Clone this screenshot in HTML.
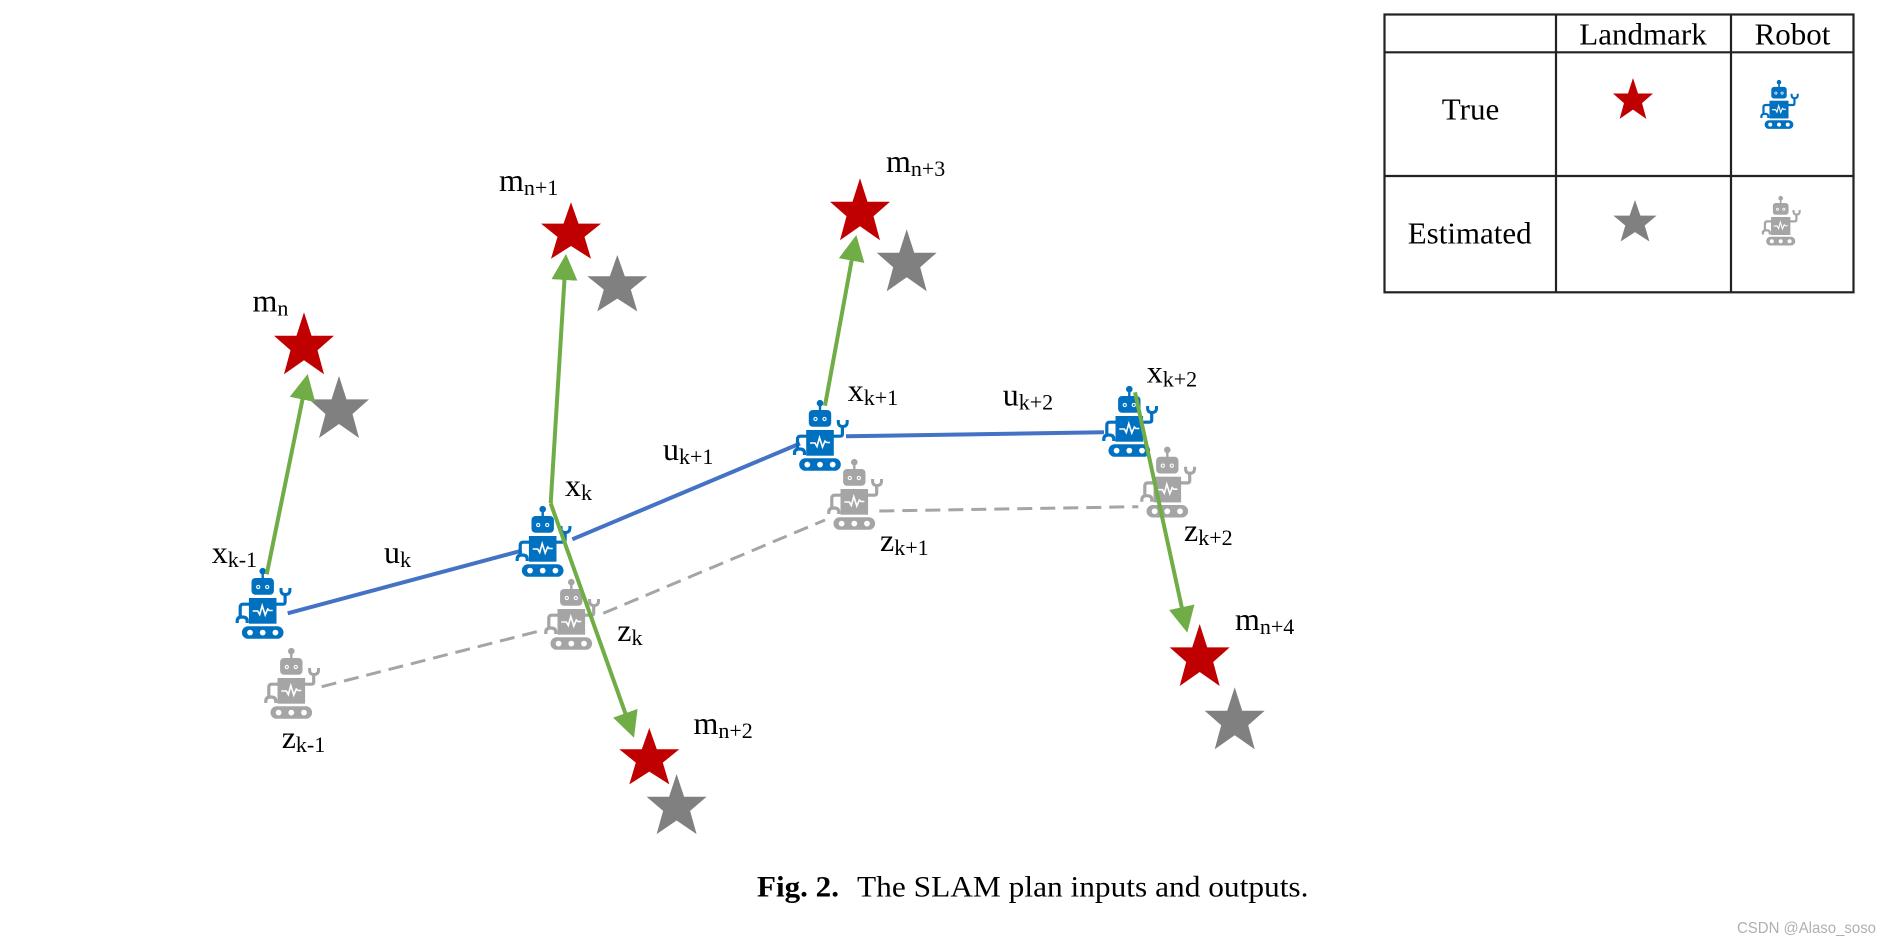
<!DOCTYPE html>
<html><head><meta charset="utf-8"><title>SLAM</title>
<style>
html,body{margin:0;padding:0;background:#fff;width:1891px;height:942px;overflow:hidden}
svg{display:block}
text{font-family:"Liberation Serif",serif;fill:#000}
.m{font-size:32px}
.s{font-size:22px}
.t{font-size:31px;text-anchor:middle}
</style></head><body>
<svg width="1891" height="942" viewBox="0 0 1891 942" xmlns="http://www.w3.org/2000/svg">
<defs>
<marker id="ah" markerUnits="userSpaceOnUse" markerWidth="26" markerHeight="26" viewBox="0 0 26 26" refX="11" refY="13" orient="auto"><path d="M0,0 L26,13 L0,26z" fill="#70AD47"/></marker>
<polygon id="star" points="0,0 7.5,23.4 30,23.4 13.5,38 20,62 0,48 -20,62 -13.5,38 -30,23.4 -7.5,23.4"/>
<g id="robot">
<rect x="-1.2" y="3" width="2.4" height="9" fill="currentColor"/>
<circle cx="0" cy="3.2" r="3.3" fill="currentColor"/>
<rect x="-11.2" y="10" width="22.4" height="16.8" rx="4" fill="currentColor"/>
<circle cx="-4.5" cy="19" r="1.6" fill="none" stroke="#fff" stroke-width="1.1"/>
<circle cx="4.5" cy="19" r="1.6" fill="none" stroke="#fff" stroke-width="1.1"/>
<rect x="-13.8" y="30" width="27.6" height="25.7" fill="currentColor"/>
<rect x="-20.8" y="58.3" width="41.6" height="12.5" rx="6.2" fill="currentColor"/>
<circle cx="-12.7" cy="64.6" r="2.9" fill="#fff"/><circle cx="0" cy="64.6" r="2.9" fill="#fff"/><circle cx="12.7" cy="64.6" r="2.9" fill="#fff"/>
<polyline points="-10,43 -5,43 -3,46.5 -0.5,37.5 2.5,47 5,41 6.5,42.5 10,42.5" fill="none" stroke="#fff" stroke-width="1.6"/>
<path d="M13 36.2 H20 Q22.4 36.2 22.4 34 V25" fill="none" stroke="currentColor" stroke-width="3.2"/>
<path d="M18.3 20 V22 Q18.3 26.5 22.7 26.5 Q27.2 26.5 27.2 22 V20" fill="none" stroke="currentColor" stroke-width="3"/>
<path d="M-13 36.2 H-19.5 Q-22.5 36.2 -22.5 39.5 V48" fill="none" stroke="currentColor" stroke-width="3.2"/>
<path d="M-25.5 55 V53 Q-25.5 49 -20.5 49 Q-15.5 49 -15.5 53 V55" fill="none" stroke="currentColor" stroke-width="3.2"/>
</g>
</defs>
<rect width="1891" height="942" fill="#fff"/>

<!-- blue and gray paths -->
<g fill="none" stroke="#4472C4" stroke-width="4">
<line x1="287.7" y1="613.3" x2="521.7" y2="550.7"/>
<line x1="572.3" y1="539.3" x2="800" y2="443.5"/>
<line x1="846" y1="436.3" x2="1104" y2="432.3"/>
</g>
<g fill="none" stroke="#A5A5A5" stroke-width="3" stroke-dasharray="15 8">
<line x1="321.7" y1="686.7" x2="543.3" y2="630"/>
<line x1="603.3" y1="613.3" x2="825" y2="520"/>
<line x1="879.3" y1="511" x2="1138.3" y2="506.7"/>
</g>

<!-- stars -->
<g fill="#808080">
<use href="#star" transform="translate(339,376)"/>
<use href="#star" transform="translate(617.3,255) scale(1,.91)"/>
<use href="#star" transform="translate(906.7,229.3)"/>
<use href="#star" transform="translate(676.6,774) scale(1,.97)"/>
<use href="#star" transform="translate(1234.7,687.3)"/>
<use href="#star" transform="translate(1635,200) scale(.72,.67)"/>
</g>
<g fill="#C00000">
<use href="#star" transform="translate(304,312.3)"/>
<use href="#star" transform="translate(571,202.3) scale(1,.91)"/>
<use href="#star" transform="translate(860,178.3)"/>
<use href="#star" transform="translate(649.3,728) scale(1,.91)"/>
<use href="#star" transform="translate(1199.7,624)"/>
<use href="#star" transform="translate(1633,78) scale(.667,.66)"/>
</g>

<!-- robots -->
<g color="#A5A5A5">
<use href="#robot" transform="translate(291.3,648)"/>
<use href="#robot" transform="translate(571.3,579)"/>
<use href="#robot" transform="translate(854.3,459)"/>
<use href="#robot" transform="translate(1167.3,446.7)"/>
<use href="#robot" transform="translate(1780.7,196) scale(.7)"/>
</g>
<g color="#0070C0">
<use href="#robot" transform="translate(262.7,568)"/>
<use href="#robot" transform="translate(542.7,506)"/>
<use href="#robot" transform="translate(820,400)"/>
<use href="#robot" transform="translate(1129.3,386)"/>
<use href="#robot" transform="translate(1779,80) scale(.69)"/>
</g>

<!-- green measurement arrows -->
<g fill="none" stroke="#70AD47" stroke-width="4">
<line x1="266.7" y1="574.3" x2="304.7" y2="388.7" marker-end="url(#ah)"/>
<line x1="550.7" y1="503.3" x2="565.1" y2="269" marker-end="url(#ah)"/>
<line x1="550.7" y1="503.3" x2="629" y2="723.6" marker-end="url(#ah)"/>
<line x1="825" y1="405.7" x2="853.6" y2="249.8" marker-end="url(#ah)"/>
<line x1="1135" y1="392.3" x2="1184.1" y2="618" marker-end="url(#ah)"/>
</g>

<!-- labels -->
<text class="m" x="211.7" y="563">x<tspan class="s" dy="4">k-1</tspan></text>
<text class="m" x="384" y="563">u<tspan class="s" dy="4">k</tspan></text>
<text class="m" x="565" y="496">x<tspan class="s" dy="4">k</tspan></text>
<text class="m" x="617.3" y="641">z<tspan class="s" dy="4">k</tspan></text>
<text class="m" x="281.7" y="748">z<tspan class="s" dy="4">k-1</tspan></text>
<text class="m" x="663" y="460">u<tspan class="s" dy="4">k+1</tspan></text>
<text class="m" x="847.7" y="401">x<tspan class="s" dy="4">k+1</tspan></text>
<text class="m" x="1002.7" y="405.7">u<tspan class="s" dy="4">k+2</tspan></text>
<text class="m" x="1146.7" y="382.7">x<tspan class="s" dy="4">k+2</tspan></text>
<text class="m" x="880" y="551">z<tspan class="s" dy="4">k+1</tspan></text>
<text class="m" x="1184" y="541">z<tspan class="s" dy="4">k+2</tspan></text>
<text class="m" x="252.5" y="311.7">m<tspan class="s" dy="4">n</tspan></text>
<text class="m" x="499" y="191">m<tspan class="s" dy="4">n+1</tspan></text>
<text class="m" x="886" y="172">m<tspan class="s" dy="4">n+3</tspan></text>
<text class="m" x="693.5" y="734">m<tspan class="s" dy="4">n+2</tspan></text>
<text class="m" x="1235" y="630">m<tspan class="s" dy="4">n+4</tspan></text>

<!-- table -->
<g stroke="#222" stroke-width="2.2" fill="none">
<rect x="1384.5" y="14.5" width="469" height="277.8"/>
<line x1="1384.5" y1="52.3" x2="1853.5" y2="52.3"/>
<line x1="1384.5" y1="176" x2="1853.5" y2="176"/>
<line x1="1556" y1="14.5" x2="1556" y2="292.3"/>
<line x1="1731" y1="14.5" x2="1731" y2="292.3"/>
</g>
<text class="t" x="1643" y="44.3">Landmark</text>
<text class="t" x="1792.5" y="44.3">Robot</text>
<text class="t" x="1470.5" y="119.3">True</text>
<text class="t" x="1469.7" y="243.3">Estimated</text>

<!-- caption -->
<text x="757" y="896.5" font-size="30" font-weight="bold" textLength="82" lengthAdjust="spacingAndGlyphs">Fig. 2.</text>
<text x="857" y="896.5" font-size="30" textLength="451.5" lengthAdjust="spacingAndGlyphs">The SLAM plan inputs and outputs.</text>
<text x="1737" y="933" font-size="16" style="font-family:'Liberation Sans',sans-serif;fill:#b0b0b0" textLength="139" lengthAdjust="spacingAndGlyphs">CSDN @Alaso_soso</text>
</svg>
</body></html>
